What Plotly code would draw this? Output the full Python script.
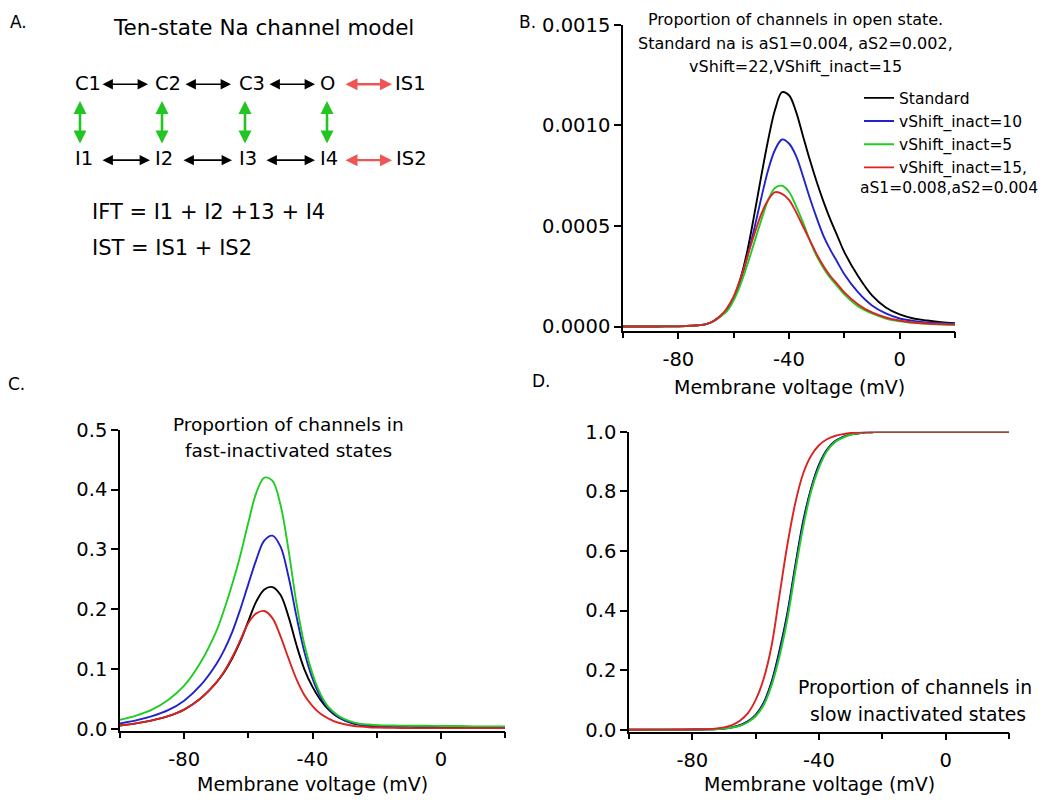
import plotly.graph_objects as go

# page has an 8px body margin; figure is sized so that it fills the 1050x804 window
PAGE_W, PAGE_H = 1050, 804
OFF = 8
FW, FH = PAGE_W - OFF, PAGE_H - OFF

# ---------------- data ----------------
voltage = [-100, -95, -90, -85, -80, -75, -70, -67.5, -65, -62.5, -60, -57.5, -55, -52.5,
           -50, -47.5, -45, -42.5, -40, -37.5, -35, -32.5, -30, -27.5, -25, -22.5, -20,
           -15, -10, -5, 0, 5, 10, 15, 20]

series_names = ["Standard", "vShift_inact=10", "vShift_inact=5", "vShift_inact=15,"]
series_colors = ["#000000", "#2222cc", "#22cc22", "#dd2222"]

# B: proportion in open state
open_standard = [0, 0, 0, 0.000001, 0.000001, 0.000004, 0.000012, 0.000025, 0.00005, 0.00008,
                 0.00014, 0.00024, 0.00038, 0.00056, 0.00075, 0.00093, 0.00108, 0.001165,
                 0.00115, 0.00107, 0.00095, 0.00083, 0.00072, 0.00062, 0.00053, 0.00045,
                 0.00037, 0.00025, 0.000155, 0.000095, 0.00006, 0.00004, 0.00003, 0.000022, 0.000017]
open_inact10 = [0, 0, 0, 0.000001, 0.000001, 0.000004, 0.000012, 0.000025, 0.00005, 0.00008,
                0.00014, 0.00023, 0.00035, 0.00049, 0.00064, 0.00078, 0.00088, 0.00093,
                0.00091, 0.00085, 0.00075, 0.00064, 0.00054, 0.00045, 0.00038, 0.00032,
                0.00026, 0.00017, 0.000105, 0.000065, 0.00004, 0.000028, 0.00002, 0.000016, 0.000013]
open_inact5 = [0, 0, 0, 0.000001, 0.000001, 0.000004, 0.000012, 0.000025, 0.000048, 0.000075,
               0.00013, 0.00021, 0.00031, 0.00042, 0.00053, 0.00063, 0.00069, 0.0007,
               0.00067, 0.0006, 0.00052, 0.00043, 0.00035, 0.00029, 0.00024, 0.0002,
               0.00016, 0.0001, 0.000065, 0.00004, 0.000026, 0.000018, 0.000013, 0.00001, 0.000008]
open_inact15_fast = [0, 0, 0, 0.000001, 0.000001, 0.000004, 0.000012, 0.000026, 0.00005, 0.00009,
                     0.00015, 0.00024, 0.00035, 0.00046, 0.00056, 0.00063, 0.000668, 0.00066,
                     0.00063, 0.00057, 0.0005, 0.00043, 0.00036, 0.0003, 0.00025, 0.00021,
                     0.00017, 0.00011, 0.00007, 0.000045, 0.00003, 0.00002, 0.000015, 0.000012, 0.00001]

# C: proportion in fast-inactivated states
fast_standard = [0.0055, 0.009, 0.014, 0.021, 0.032, 0.05, 0.077, 0.095, 0.118, 0.146,
                 0.18, 0.213, 0.233, 0.237, 0.224, 0.188, 0.14, 0.099, 0.07, 0.048,
                 0.032, 0.021, 0.014, 0.009, 0.0065, 0.005, 0.004, 0.0035, 0.003, 0.003,
                 0.003, 0.003, 0.003, 0.003, 0.003]
fast_inact10 = [0.009, 0.014, 0.021, 0.031, 0.047, 0.072, 0.108, 0.132, 0.162, 0.2,
                0.242, 0.283, 0.315, 0.323, 0.305, 0.255, 0.188, 0.128, 0.084, 0.053,
                0.034, 0.022, 0.014, 0.01, 0.007, 0.006, 0.005, 0.0045, 0.004, 0.004,
                0.0035, 0.0035, 0.003, 0.003, 0.003]
fast_inact5 = [0.015, 0.022, 0.032, 0.048, 0.072, 0.11, 0.163, 0.2, 0.242, 0.29,
               0.345, 0.395, 0.42, 0.415, 0.375, 0.3, 0.21, 0.14, 0.092, 0.058,
               0.036, 0.024, 0.016, 0.011, 0.008, 0.007, 0.006, 0.0055, 0.005, 0.005,
               0.0045, 0.0045, 0.004, 0.004, 0.004]
fast_inact15_fast = [0.0055, 0.009, 0.014, 0.021, 0.032, 0.05, 0.077, 0.096, 0.12, 0.148,
                     0.177, 0.193, 0.197, 0.185, 0.155, 0.118, 0.083, 0.056, 0.038, 0.025,
                     0.017, 0.011, 0.0075, 0.005, 0.0035, 0.0025, 0.002, 0.0015, 0.0012, 0.001,
                     0.001, 0.001, 0.001, 0.001, 0.001]

# D: proportion in slow inactivated states
slow_standard = [0, 0, 0.0001, 0.0002, 0.0004, 0.001, 0.004, 0.008, 0.015, 0.028,
                 0.05, 0.09, 0.16, 0.265, 0.39, 0.55, 0.7, 0.81, 0.89, 0.94,
                 0.968, 0.982, 0.991, 0.995, 0.998, 0.999, 1, 1, 1, 1,
                 1, 1, 1, 1, 1]
slow_inact10 = [0, 0, 0.0001, 0.0002, 0.0004, 0.001, 0.004, 0.008, 0.014, 0.027,
                0.048, 0.087, 0.155, 0.258, 0.383, 0.543, 0.693, 0.806, 0.886, 0.938,
                0.967, 0.982, 0.992, 0.995, 0.998, 0.999, 1, 1, 1, 1,
                1, 1, 1, 1, 1]
slow_inact5 = [0, 0, 0.0001, 0.0002, 0.0003, 0.001, 0.0035, 0.007, 0.013, 0.025,
               0.045, 0.082, 0.148, 0.245, 0.37, 0.53, 0.68, 0.8, 0.88, 0.935,
               0.965, 0.98, 0.991, 0.995, 0.998, 0.999, 1, 1, 1, 1,
               1, 1, 1, 1, 1]
slow_inact15_fast = [0, 0, 0.0002, 0.0004, 0.0008, 0.002, 0.008, 0.015, 0.03, 0.055,
                     0.1, 0.17, 0.28, 0.45, 0.62, 0.76, 0.86, 0.92, 0.955, 0.975,
                     0.986, 0.992, 0.996, 0.998, 0.999, 1, 1, 1, 1, 1,
                     1, 1, 1, 1, 1]

open_series = [open_standard, open_inact10, open_inact5, open_inact15_fast]
fast_series = [fast_standard, fast_inact10, fast_inact5, fast_inact15_fast]
slow_series = [slow_standard, slow_inact10, slow_inact5, slow_inact15_fast]

x_tick_vals = [-80, -40, 0]
x_tick_text = ["-80", "-40", "0"]

# ---------------- helpers ----------------
FONT = "DejaVu Sans"
TICK_SIZE = 19.5


def px(x):
    return (x - OFF) / FW


def py(y):
    return 1 - (y - OFF) / FH


fig = go.Figure()

panels = [(open_series, "x", "y", True), (fast_series, "x2", "y2", False),
          (slow_series, "x3", "y3", False)]
for series, xa, ya, show in panels:
    for i in range(4):
        fig.add_trace(go.Scatter(x=voltage, y=series[i], mode="lines", name=series_names[i],
                                 line=dict(color=series_colors[i], width=1.9, shape="spline",
                                           smoothing=1.0),
                                 xaxis=xa, yaxis=ya, showlegend=show))


def xaxis_style(x0, x1, anchor):
    return dict(domain=[px(x0), px(x1)], range=[-100, 20], anchor=anchor,
                showline=True, linecolor="black", linewidth=1.5, mirror=False,
                showgrid=False, zeroline=False, ticks="outside", ticklen=7, tickwidth=1.5,
                tickcolor="black", tickvals=x_tick_vals, ticktext=x_tick_text,
                ticklabelstandoff=3,
                minor=dict(tickvals=[-100, -60, -20, 20], ticks="outside", ticklen=6,
                           tickwidth=1.5, tickcolor="black", showgrid=False),
                tickfont=dict(family=FONT, size=TICK_SIZE, color="black"), fixedrange=True)


def yaxis_style(y0, y1, rng, dtick, fmt, anchor):
    return dict(domain=[py(y1), py(y0)], range=rng, anchor=anchor,
                showline=True, linecolor="black", linewidth=1.5,
                showgrid=False, zeroline=False, ticks="outside", ticklen=7, tickwidth=1.5,
                tickcolor="black", tick0=0, dtick=dtick, tickformat=fmt,
                tickfont=dict(family=FONT, size=TICK_SIZE, color="black"), fixedrange=True)


fig.update_layout(
    width=FW, height=FH,
    margin=dict(l=0, r=0, t=0, b=0),
    paper_bgcolor="white", plot_bgcolor="white",
    font=dict(family=FONT, color="black"),
    xaxis=xaxis_style(623, 955, "y"),
    yaxis=yaxis_style(14, 328, [-0.00002, 0.0015], 0.0005, ".4f", "x"),
    xaxis2=xaxis_style(120, 505, "y2"),
    yaxis2=yaxis_style(430, 739, [-0.0033, 0.5], 0.1, ".1f", "x2"),
    xaxis3=xaxis_style(629, 1009, "y3"),
    yaxis3=yaxis_style(432, 740, [-0.0067, 1.0], 0.2, ".1f", "x3"),
    legend=dict(x=px(859), y=py(72), xanchor="left", yanchor="top",
                bgcolor="rgba(0,0,0,0)", borderwidth=0, itemwidth=30,
                tracegroupgap=0, font=dict(family=FONT, size=15.5, color="black")),
    showlegend=True,
)


def text(x, y, s, size, xanchor="center"):
    fig.add_annotation(x=px(x), y=py(y), xref="paper", yref="paper", text=s, showarrow=False,
                       xanchor=xanchor, yanchor="middle",
                       font=dict(family=FONT, size=size, color="black"))


# panel letters
text(8, 11, "A.", 17, "left")
text(517, 11, "B.", 17, "left")
text(6, 383, "C.", 17, "left")
text(530, 380, "D.", 17, "left")

# Panel A diagram
text(263, 17, "Ten-state Na channel model", 21.5)
ROW1, ROW2 = 74, 151
top_labels = [("C1", 88), ("C2", 168), ("C3", 252), ("O", 327), ("IS1", 410)]
bot_labels = [("I1", 84), ("I2", 164), ("I3", 248), ("I4", 329), ("IS2", 411)]
for s, x in top_labels:
    text(x, ROW1, s, 19.5)
for s, x in bot_labels:
    text(x, ROW2, s, 19.5)


def darrow(x0, y0, x1, y1, color, width, size):
    fig.add_annotation(x=px(x1), y=py(y1), xref="paper", yref="paper",
                       ax=x0 - x1, ay=y0 - y1, axref="pixel", ayref="pixel",
                       text="", showarrow=True, arrowhead=2, startarrowhead=2,
                       arrowside="end+start", arrowsize=size, startarrowsize=size,
                       arrowwidth=width, arrowcolor=color, standoff=0, startstandoff=0)


for x0, x1 in [(101, 148), (184, 231), (268, 315)]:
    darrow(x0, ROW1 + 1, x1, ROW1 + 1, "black", 1.6, 1.3)
for x0, x1 in [(101, 150), (182, 232), (265, 315)]:
    darrow(x0, ROW2 + 2, x1, ROW2 + 2, "black", 1.6, 1.3)
darrow(344, ROW1 + 1, 392, ROW1 + 1, "#f05555", 2.4, 1.0)
darrow(344, ROW2 + 2, 392, ROW2 + 2, "#f05555", 2.4, 1.0)
for x in [80, 162, 245, 327]:
    darrow(x, ROW1 + 18, x, ROW2 - 15, "#22c522", 2.6, 1.0)

text(90, 206, "IFT = I1 + I2 +13 + I4", 21, "left")
text(90, 243, "IST = IS1 + IS2", 21, "left")

# Panel B title and legend continuation
text(795, 9, "Proportion of channels in open state.", 16)
text(795, 33, "Standard na is aS1=0.004, aS2=0.002,", 16)
text(795, 57, "vShift=22,VShift_inact=15", 16)
text(858, 182, "aS1=0.008,aS2=0.004", 15.5, "left")

# axis titles
text(789, 386, "Membrane voltage (mV)", 19)
text(312, 794, "Membrane voltage (mV)", 19)
text(819, 794, "Membrane voltage (mV)", 19)

# Panel C / D titles
text(288, 425, "Proportion of channels in", 18.5)
text(288, 451, "fast-inactivated states", 18.5)
text(915, 695, "Proportion of channels in", 18.8)
text(918, 722, "slow inactivated states", 18.8)

fig.write_html("out.html")
